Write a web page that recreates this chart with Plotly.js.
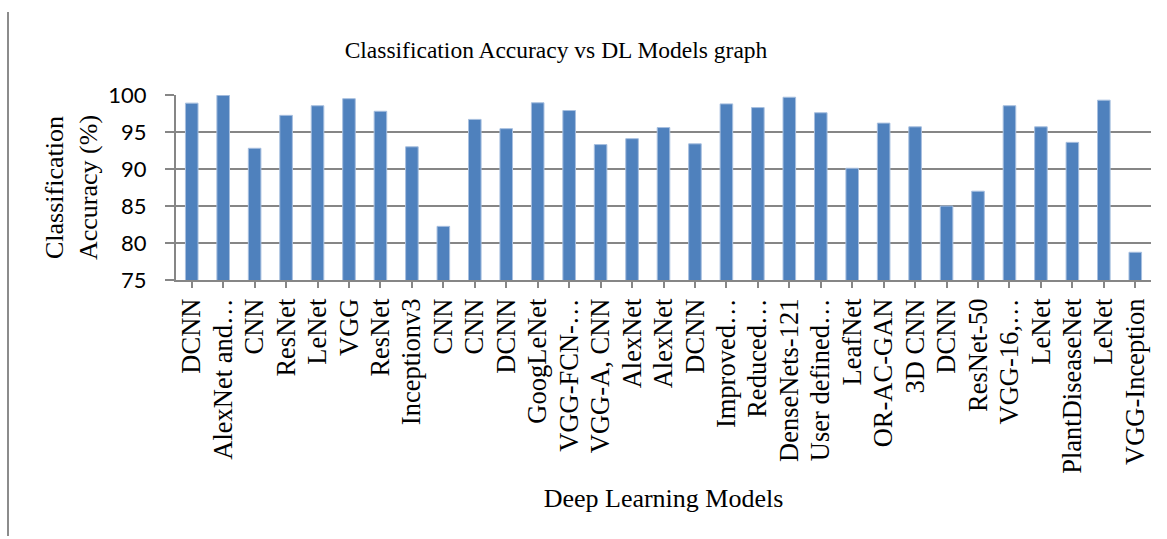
<!DOCTYPE html>
<html>
<head>
<meta charset="utf-8">
<script src="https://cdn.plot.ly/plotly-3.0.1.min.js"></script>
<style>html,body{margin:0;padding:0;background:#fff;}#chart{width:1167px;height:539px;}</style>
</head>
<body>
<div id="chart"></div>
<script>
const models = ["DCNN","AlexNet and…","CNN","ResNet","LeNet","VGG","ResNet","Inceptionv3","CNN","CNN","DCNN","GoogLeNet","VGG-FCN-…","VGG-A, CNN","AlexNet","AlexNet","DCNN","Improved…","Reduced…","DenseNets-121","User defined…","LeafNet","OR-AC-GAN","3D CNN","DCNN","ResNet-50","VGG-16,…","LeNet","PlantDiseaseNet","LeNet","VGG-Inception"];
const accuracy = [98.9,99.95,92.8,97.25,98.55,99.5,97.8,93.0,82.25,96.7,95.45,98.95,97.9,93.3,94.1,95.6,93.4,98.8,98.3,99.7,97.6,90.1,96.2,95.7,85.0,87.0,98.55,95.7,93.6,99.3,78.75];
const yTicks = [75,80,85,90,95,100];

const idx = models.map((_, i) => i);
const grid = '#868686';
const serif = 'Liberation Serif, Times New Roman, serif';

const trace = {
  type: 'bar',
  x: idx,
  y: accuracy,
  marker: {color: '#4F81BD', line: {color: '#a7bfdf', width: 1}},
  hoverinfo: 'y'
};

const layout = {
  width: 1167, height: 539,
  margin: {l: 176, r: 16, t: 95, b: 259, pad: 0},
  paper_bgcolor: '#fff', plot_bgcolor: '#fff',
  showlegend: false,
  bargap: 0.6,
  title: {
    text: 'Classification Accuracy vs DL Models graph',
    font: {family: serif, size: 23.5, color: '#000'},
    xref: 'container', x: 556/1167, xanchor: 'center',
    yref: 'container', y: 1 - 50/539, yanchor: 'middle'
  },
  xaxis: {
    tickmode: 'array', tickvals: idx, ticktext: models,
    range: [-0.5, models.length - 0.5],
    tickangle: -90,
    tickfont: {family: serif, size: 26.5, color: '#000'},
    ticks: 'outside', ticklen: 6, tickwidth: 2, tickcolor: grid,
    tickson: 'boundaries',
    showline: true, linecolor: grid, linewidth: 2,
    showgrid: false, zeroline: false,
    automargin: false,
    title: {text: 'Deep Learning Models', font: {family: serif, size: 26, color: '#000'}, standoff: 16}
  },
  yaxis: {
    range: [75, 100],
    tickmode: 'array', tickvals: yTicks,
    tickfont: {family: 'Lato, Carlito, sans-serif', size: 22, color: '#000'},
    ticks: 'outside', ticklen: 9, tickwidth: 2, tickcolor: grid,
    ticklabelstandoff: 14,
    showline: true, linecolor: grid, linewidth: 2,
    showgrid: true, gridcolor: grid, gridwidth: 2,
    zeroline: false,
    automargin: false,
    title: {text: 'Classification<br>Accuracy (%)', font: {family: serif, size: 26, color: '#000'}, standoff: 3}
  },
  shapes: [{
    type: 'line', xref: 'paper', yref: 'paper',
    x0: (8 - 176) / 975, x1: (8 - 176) / 975,
    y0: (280 - 536) / 185, y1: (280 - 12) / 185,
    line: {color: '#8c8c8c', width: 2}
  }]
};

Plotly.newPlot('chart', [trace], layout, {displayModeBar: false, staticPlot: true});
</script>
</body>
</html>
